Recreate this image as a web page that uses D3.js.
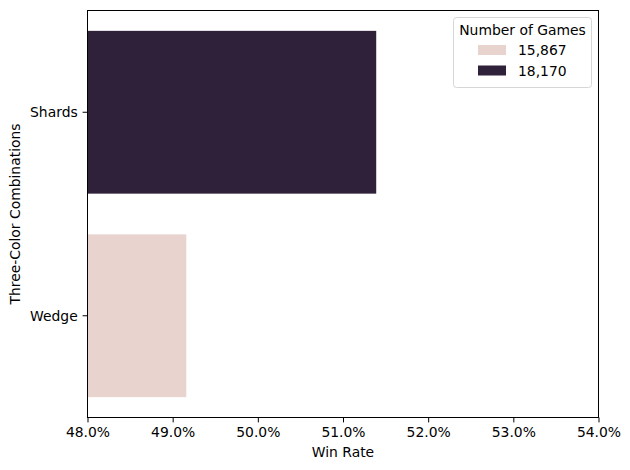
<!DOCTYPE html>
<html><head><meta charset="utf-8">
<script src="https://cdn.jsdelivr.net/npm/d3@7"></script>
<style>body{margin:0;background:#fff}svg{display:block}text{font-family:"DejaVu Sans",sans-serif}</style>
</head><body><svg id="c" width="630" height="470"></svg>
<script>
const categories = ["Shards", "Wedge"];
const winRates = [0.5139, 0.4916];
const games = ["18,170", "15,867"];
const legendLabels = ["15,867", "18,170"];
const legendColors = ["#e8d3cf", "#2e2139"];
const xTicks = [0.48, 0.49, 0.50, 0.51, 0.52, 0.53, 0.54];

const svg = d3.select("#c");
const m = {l: 87.5, r: 598.5, t: 10.5, b: 417.5};
const x = d3.scaleLinear().domain([0.48, 0.54]).range([m.l, m.r]);
const y = d3.scaleBand().domain(categories).range([m.t, m.b]).paddingInner(0.2).paddingOuter(0.1);
const color = d3.scaleOrdinal().domain(legendLabels).range(legendColors);

svg.selectAll("rect.bar").data(categories).enter().append("rect")
  .attr("class", "bar")
  .attr("x", x(0.48))
  .attr("y", d => y(d))
  .attr("width", (d, i) => x(winRates[i]) - x(0.48))
  .attr("height", y.bandwidth())
  .attr("fill", (d, i) => color(games[i]));

const fs = "13.9px";
const xa = svg.append("g").attr("transform", `translate(0,${m.b})`)
  .call(d3.axisBottom(x).tickValues(xTicks).tickFormat(d3.format(".1%")).tickSize(4.9).tickPadding(4.9));
const ya = svg.append("g").attr("transform", `translate(${m.l},0)`)
  .call(d3.axisLeft(y).tickSize(4.9).tickPadding(4.9));
[xa, ya].forEach(a => {
  a.select(".domain").remove();
  a.selectAll("text").attr("font-size", fs).attr("fill", "#000").attr("font-family", "DejaVu Sans");
  a.selectAll("line").attr("stroke", "#000").attr("stroke-width", 1);
});
ya.selectAll("text").attr("dy", "0.35em");

svg.append("rect").attr("x", m.l).attr("y", m.t).attr("width", m.r - m.l).attr("height", m.b - m.t)
  .attr("fill", "none").attr("stroke", "#000").attr("stroke-width", 1);

svg.append("text").attr("x", (m.l + m.r) / 2).attr("y", 457).attr("text-anchor", "middle")
  .attr("font-size", fs).text("Win Rate");
svg.append("text").attr("transform", `translate(20,${(m.t + m.b) / 2}) rotate(-90)`)
  .attr("text-anchor", "middle").attr("font-size", fs).text("Three-Color Combinations");

// legend
const lg = svg.append("g");
lg.append("rect").attr("x", 453.5).attr("y", 17.5).attr("width", 138).attr("height", 70).attr("rx", 3)
  .attr("fill", "#fff").attr("fill-opacity", 0.8).attr("stroke", "#d6d6d6");
lg.append("text").attr("x", 522.5).attr("y", 35).attr("text-anchor", "middle").attr("font-size", fs).text("Number of Games");
legendLabels.forEach((l, i) => {
  lg.append("rect").attr("x", 478).attr("y", 45 + i * 20.5).attr("width", 28).attr("height", 10).attr("fill", color(l));
  lg.append("text").attr("x", 518).attr("y", 55 + i * 20.5).attr("font-size", fs).text(l);
});
</script></body></html>
